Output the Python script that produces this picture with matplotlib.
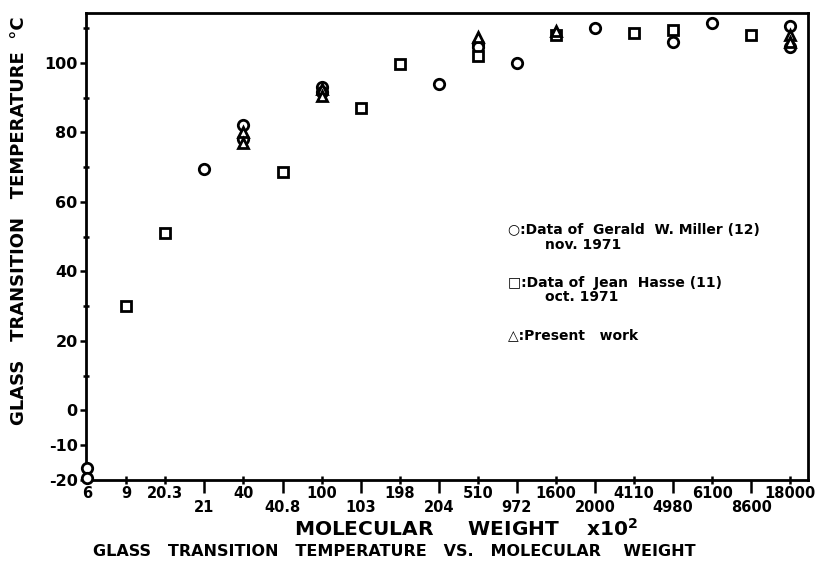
import matplotlib
matplotlib.use("Agg")
import matplotlib.pyplot as plt
from matplotlib.ticker import FixedLocator, FixedFormatter

plt.rcParams['font.family'] = ['DejaVu Sans']
plt.rcParams['font.weight'] = 'bold'

# molecular weight categories (x10^2), evenly spaced on the axis
categories = ['6', '9', '20.3', '21', '40', '40.8', '100', '103', '198', '204',
              '510', '972', '1600', '2000', '4110', '4980', '6100', '8600', '18000']
# which labels sit on the lower row
lower_row = ['21', '40.8', '103', '204', '972', '2000', '4980', '8600']

# Data of Gerald W. Miller (circles)
miller_mw = ['6', '6', '21', '40', '40', '100', '100', '204', '510', '510',
             '972', '2000', '4980', '6100', '18000', '18000']
miller_tg = [-16.5, -19.5, 69.5, 82, 78, 93, 91.5, 94, 105.5, 104.5,
             100, 110, 106, 111.5, 110.5, 104.5]

# Data of Jean Hasse (squares)
hasse_mw = ['9', '20.3', '40.8', '103', '198', '510', '1600', '4110', '4980', '8600']
hasse_tg = [30, 51, 68.5, 87, 99.5, 102, 108, 108.5, 109.5, 108]

# Present work (triangles)
present_mw = ['40', '40', '100', '100', '510', '1600', '18000', '18000']
present_tg = [80, 77, 92.5, 90.5, 107.5, 109, 108, 106]

y_major = [-20, -10, 0, 20, 40, 60, 80, 100]
y_minor = [10, 30, 50, 70, 90, 110]


def idx(labels):
    return [categories.index(m) for m in labels]


fig = plt.figure(figsize=(8.3, 5.73), dpi=100)
ax = fig.add_axes([0.1036, 0.1623, 0.8699, 0.815])

mk = dict(linestyle='none', markerfacecolor='white', markeredgecolor='black',
          markeredgewidth=2, clip_on=False, zorder=3)
ax.plot(idx(miller_mw), miller_tg, marker='o', markersize=7.5, **mk)
ax.plot(idx(hasse_mw), hasse_tg, marker='s', markersize=7, **mk)
ax.plot(idx(present_mw), present_tg, marker='^', markersize=7.5, **mk)

ax.set_xlim(-0.03, 18.45)
ax.set_ylim(-20, 114.3)

for s in ax.spines.values():
    s.set_linewidth(2)
    s.set_color('black')

# x ticks: upper-row labels as major, lower-row labels as minor
upper = [c for c in categories if c not in lower_row]
ax.xaxis.set_major_locator(FixedLocator(idx(upper)))
ax.xaxis.set_major_formatter(FixedFormatter(upper))
ax.xaxis.set_minor_locator(FixedLocator(idx(lower_row)))
ax.xaxis.set_minor_formatter(FixedFormatter(lower_row))
ax.tick_params(axis='x', which='major', direction='inout', length=6, width=1.8,
               pad=1.5, labelsize=10.5)
ax.tick_params(axis='x', which='minor', direction='out', length=9, width=1.8,
               pad=5.5, labelsize=10.5)

ax.yaxis.set_major_locator(FixedLocator(y_major))
ax.yaxis.set_major_formatter(FixedFormatter([str(v) for v in y_major]))
ax.yaxis.set_minor_locator(FixedLocator(y_minor))
ax.tick_params(axis='y', which='major', direction='out', length=4, width=1.8,
               pad=2, labelsize=11.5)
ax.tick_params(axis='y', which='minor', direction='inout', length=5, width=1.8)

for lab in ax.get_xticklabels(which='both') + ax.get_yticklabels():
    lab.set_fontweight('bold')

ax.set_ylabel('GLASS   TRANSITION   TEMPERATURE  °C', fontsize=13, fontweight='bold')
ax.yaxis.set_label_coords(-0.08, 0.555)
ax.set_xlabel('MOLECULAR     WEIGHT    x10$^\\mathbf{2}$', fontsize=14.5, fontweight='bold')
ax.xaxis.set_label_coords(0.526, -0.082)
fig.text(0.475, 0.038, 'GLASS   TRANSITION   TEMPERATURE   VS.   MOLECULAR    WEIGHT',
         ha='center', va='center', fontsize=11.5, fontweight='bold')

# legend written as text, as in the original figure
legend_lines = [
    ('○:Data of  Gerald  W. Miller (12)', 230),
    ('nov. 1971', 245),
    ('□:Data of  Jean  Hasse (11)', 283),
    ('oct. 1971', 297),
    ('△:Present   work', 335),
]
for txt, ypix in legend_lines:
    xpix = 545 if txt[0] not in '○□△' else 508
    fig.text(xpix / 830, 1 - ypix / 573, txt, ha='left', va='center',
             fontsize=10, fontweight='bold')

fig.savefig('out.png', dpi=100)
